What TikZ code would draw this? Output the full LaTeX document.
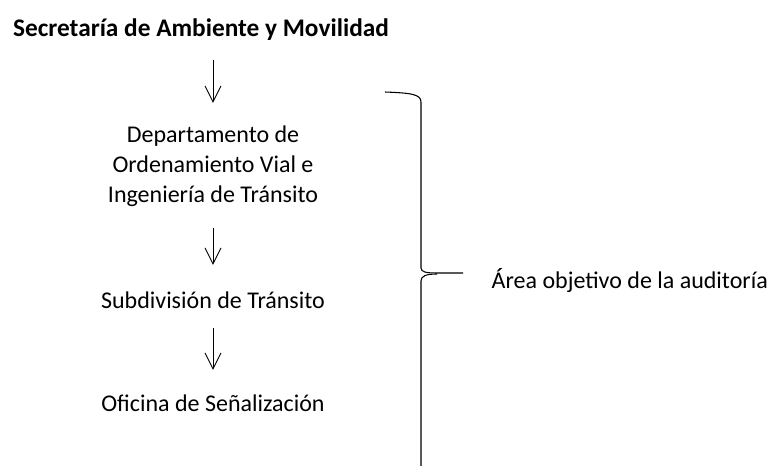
\documentclass[tikz,border=0pt]{standalone}
\usepackage{fontspec}
\setmainfont{Carlito}
\usetikzlibrary{arrows.meta}
\begin{document}
\begin{tikzpicture}[x=0.75pt,y=-0.75pt,
  unit/.style={align=center,font=\fontsize{18}{22.5}\selectfont},
  down/.style={-{Straight Barb[length=12pt,width=12pt]},line width=0.7pt}]
\useasboundingbox (0,0) rectangle (776,466);

% Chain of offices
\node[unit,font=\bfseries\fontsize{19}{22}\selectfont] (sec) at (201,30) {Secretaría de Ambiente y Movilidad};
\node[unit] (dep) at (213,166) {Departamento de\\Ordenamiento Vial e\\Ingeniería de Tránsito};
\node[unit] (sub) at (213,300) {Subdivisión de Tránsito};
\node[unit] (ofi) at (213,403) {Oficina de Señalización};

% Arrows
\coordinate (a1) at (213,60);  \coordinate (b1) at (213,103);
\coordinate (a2) at (213,228); \coordinate (b2) at (213,265);
\coordinate (a3) at (213,328); \coordinate (b3) at (213,370);
\draw[down] (a1) -- (b1);
\draw[down] (a2) -- (b2);
\draw[down] (a3) -- (b3);

% Brace and target area
\draw[line width=0.8pt] (385,92) .. controls (410,93) and (421,94) .. (421,102) -- (421,268)
  .. controls (421,272) and (426,273) .. (437,273) -- (463,273);
\draw[line width=0.8pt] (437,274) .. controls (426,274) and (421,276) .. (421,281) -- (421,466);
\node[unit,anchor=west] (area) at (487,281) {Área objetivo de la auditoría};
\end{tikzpicture}
\end{document}
